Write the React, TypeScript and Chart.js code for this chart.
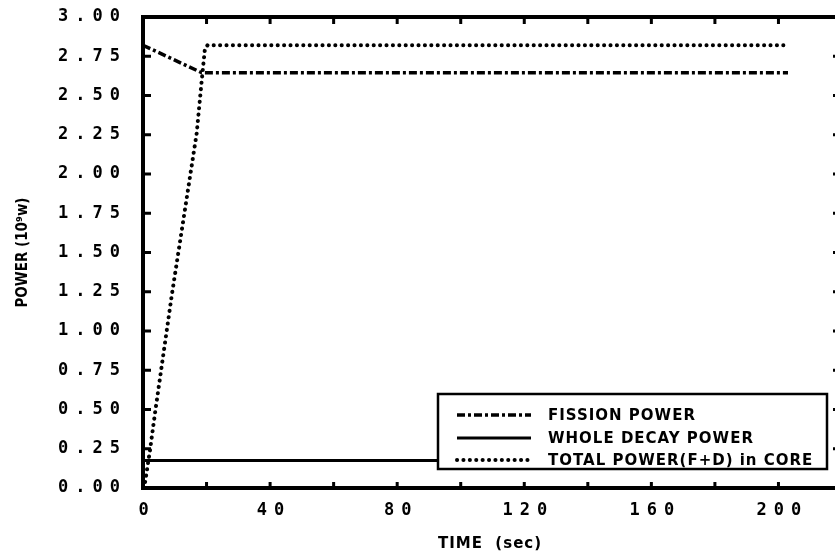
import React, { useEffect, useRef } from "react";
import { Chart, registerables } from "chart.js";

Chart.register(...registerables);

// ---- data ----
const fissionTime = [0, 18.5, 203];
const fissionPower = [2.82, 2.645, 2.645];

const decayTime = [0, 203];
const decayPower = [0.175, 0.175];

const totalTime = [0, 0.6, 2.2, 3.8, 9, 16.9, 18.5, 19.5, 20.3, 203];
const totalPower = [0, 0.03, 0.24, 0.48, 1.22, 2.26, 2.6, 2.8, 2.82, 2.82];

const xLabelTicks = [0, 40, 80, 120, 160, 200];
const xMarkTicks = [0, 20, 40, 60, 80, 100, 120, 140, 160, 180, 200];
const yTicks = [0, 0.25, 0.5, 0.75, 1, 1.25, 1.5, 1.75, 2, 2.25, 2.5, 2.75, 3];

const legendLabels = ["FISSION POWER", "WHOLE DECAY POWER", "TOTAL POWER(F+D) in CORE"];
const xTitle = "TIME  (sec)";
const yTitle = "POWER (10\u2079w)";

const FISSION_DASH = [8, 3, 3, 3];
const DOT_DASH = [0.1, 6.3];
const WIDE_FONT = "bold 15px 'DejaVu Sans', sans-serif";
const NARROW_FONT = "bold 15px 'DejaVu Sans Condensed', 'Liberation Sans Narrow', sans-serif";

const toPts = (xs: number[], ys: number[]) => xs.map((x, i) => ({ x, y: ys[i] }));

const decorPlugin = {
  id: "decor",
  beforeUpdate(chart: any) {
    chart.ctx.letterSpacing = "7px";
  },
  beforeLayout(chart: any) {
    chart.ctx.letterSpacing = "7px";
  },
  beforeDraw(chart: any) {
    chart.ctx.letterSpacing = "7px";
  },
  afterDatasetsDraw(chart: any) {
    const ctx = chart.ctx as CanvasRenderingContext2D;
    const { left, right, top, bottom } = chart.chartArea;
    const xs = chart.scales.x;
    const ys = chart.scales.y;
    ctx.save();
    (ctx as any).letterSpacing = "0px";
    ctx.strokeStyle = "#000";
    ctx.fillStyle = "#000";
    ctx.setLineDash([]);

    // legend box
    const bx = 438, by = 394, bw = 389, bh = 75;
    ctx.fillStyle = "#fff";
    ctx.fillRect(bx, by, bw, bh);
    ctx.lineWidth = 2.5;
    ctx.strokeRect(bx, by, bw, bh);

    const rows = [415, 438, 460];
    const styles = [
      { dash: FISSION_DASH, w: 3.5, cap: "butt" },
      { dash: [], w: 3, cap: "butt" },
      { dash: DOT_DASH, w: 4, cap: "round" },
    ];
    ctx.font = WIDE_FONT;
    (ctx as any).letterSpacing = "1px";
    ctx.textBaseline = "middle";
    ctx.textAlign = "left";
    rows.forEach((ry, i) => {
      ctx.save();
      ctx.setLineDash(styles[i].dash);
      ctx.lineWidth = styles[i].w;
      ctx.lineCap = styles[i].cap as CanvasLineCap;
      ctx.beginPath();
      ctx.moveTo(457, ry);
      ctx.lineTo(531, ry);
      ctx.stroke();
      ctx.restore();
      ctx.fillStyle = "#000";
      ctx.fillText(legendLabels[i], 548, ry + 1);
    });

    // frame
    ctx.lineWidth = 4;
    ctx.strokeRect(left, top, right - left, bottom - top);

    // tick marks
    ctx.lineWidth = 3;
    xMarkTicks.forEach((v) => {
      const px = xs.getPixelForValue(v);
      ctx.beginPath();
      ctx.moveTo(px, bottom);
      ctx.lineTo(px, bottom - 6);
      ctx.moveTo(px, top);
      ctx.lineTo(px, top + 7);
      ctx.stroke();
    });
    yTicks.forEach((v) => {
      const py = ys.getPixelForValue(v);
      ctx.beginPath();
      ctx.moveTo(left, py);
      ctx.lineTo(left + 8, py);
      ctx.moveTo(right, py);
      ctx.lineTo(right - 9, py);
      ctx.stroke();
    });

    // titles
    ctx.fillStyle = "#000";
    ctx.font = WIDE_FONT;
    (ctx as any).letterSpacing = "1px";
    ctx.textAlign = "center";
    ctx.textBaseline = "middle";
    ctx.fillText(xTitle, 490, 544);
    ctx.font = NARROW_FONT;
    (ctx as any).letterSpacing = "0px";
    ctx.save();
    ctx.translate(23, (top + bottom) / 2);
    ctx.rotate(-Math.PI / 2);
    ctx.fillText(yTitle, 0, 0);
    ctx.restore();

    ctx.restore();
    (ctx as any).letterSpacing = "7px";
  },
};

export default function App() {
  const ref = useRef<HTMLCanvasElement | null>(null);
  useEffect(() => {
    document.documentElement.style.overflow = "hidden";
    document.body.style.overflow = "hidden";
    const canvas = ref.current!;
    const tickFont = { family: "'DejaVu Sans Mono', monospace", weight: "bold" as const, size: 17 };
    const chart = new Chart(canvas, {
      type: "line",
      data: {
        datasets: [
          {
            label: legendLabels[0],
            data: toPts(fissionTime, fissionPower),
            borderColor: "#000",
            borderWidth: 3.5,
            borderDash: FISSION_DASH,
            pointRadius: 0,
            fill: false,
          },
          {
            label: legendLabels[1],
            data: toPts(decayTime, decayPower),
            borderColor: "#000",
            borderWidth: 3,
            pointRadius: 0,
            fill: false,
          },
          {
            label: legendLabels[2],
            data: toPts(totalTime, totalPower),
            borderColor: "#000",
            borderWidth: 4,
            borderDash: DOT_DASH,
            borderCapStyle: "round",
            pointRadius: 0,
            fill: false,
          },
        ],
      },
      options: {
        animation: false,
        responsive: false,
        devicePixelRatio: 1,
        layout: { padding: { top: 17, right: 0, left: 0, bottom: 0 } },
        plugins: { legend: { display: false }, tooltip: { enabled: false } },
        scales: {
          x: {
            type: "linear",
            min: 0,
            max: 220,
            grid: { display: false, drawTicks: false },
            border: { display: false },
            afterBuildTicks: (axis: any) => {
              axis.ticks = xLabelTicks.map((v) => ({ value: v }));
            },
            afterFit: (s: any) => {
              s.height = 72;
              s.paddingLeft = 0;
              s.paddingRight = 0;
            },
            ticks: {
              font: tickFont,
              color: "#000",
              padding: 12,
              labelOffset: 4,
              maxRotation: 0,
              autoSkip: false,
              callback: (v: any) => String(v),
            },
          },
          y: {
            min: 0,
            max: 3,
            grid: { display: false, drawTicks: false },
            border: { display: false },
            afterBuildTicks: (axis: any) => {
              axis.ticks = yTicks.map((v) => ({ value: v }));
            },
            afterFit: (s: any) => {
              s.width = 143;
              s.paddingTop = 0;
              s.paddingBottom = 0;
            },
            ticks: {
              font: tickFont,
              color: "#000",
              padding: 16,
              autoSkip: false,
              callback: (v: any) => Number(v).toFixed(2),
            },
          },
        },
      },
      plugins: [decorPlugin],
    } as any);
    return () => chart.destroy();
  }, []);
  return (
    <div style={{ position: "fixed", left: 0, top: 0, width: 842, height: 560, background: "#fff" }}>
      <canvas ref={ref} width={842} height={560} style={{ display: "block" }} />
    </div>
  );
}
